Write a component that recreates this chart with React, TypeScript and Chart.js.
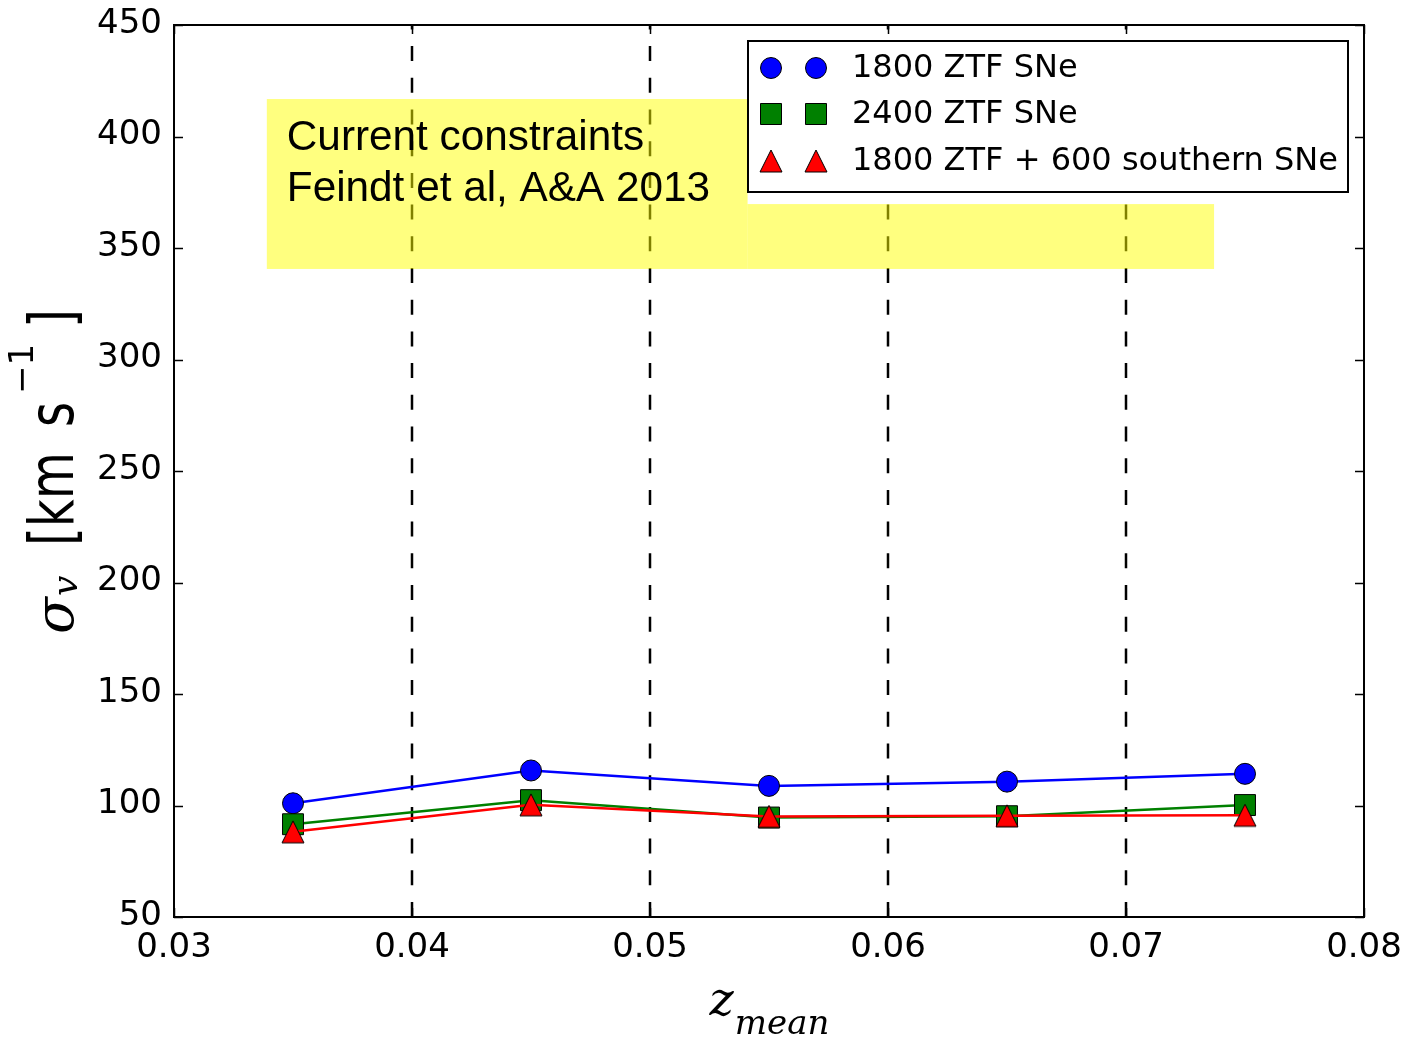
import React, { useEffect, useRef } from "react";
import { Chart, registerables } from "chart.js";

Chart.register(...registerables);

const zMean = [0.035, 0.045, 0.055, 0.065, 0.075];
const sigma1800 = [101, 115.7, 108.8, 110.7, 114.2];
const sigma2400 = [91.6, 102.4, 94.6, 95.2, 100.2];
const sigmaSouth = [88.2, 100.3, 95.1, 95.4, 95.6];
const seriesLabels = ["1800 ZTF SNe", "2400 ZTF SNe", "1800 ZTF + 600 southern SNe"];
const seriesColors = ["#0000ff", "#008000", "#ff0000"];
const xTicks = [0.03, 0.04, 0.05, 0.06, 0.07, 0.08];
const yTicks = [50, 100, 150, 200, 250, 300, 350, 400, 450];
const bandTextBox = [0.0339, 0.0541, 340.6, 416.8];
const bandRect = [0.0541, 0.0737, 340.6, 369.7];
const annotationLines = ["Current constraints", "Feindt et al, A&A 2013"];

function makeTriangle(size: number, fill: string) {
  const c = document.createElement("canvas");
  c.width = size + 4;
  c.height = size + 4;
  const g = c.getContext("2d")!;
  const cx = c.width / 2;
  const cy = c.height / 2;
  const h = size / 2;
  g.beginPath();
  g.moveTo(cx, cy - h);
  g.lineTo(cx - h, cy + h);
  g.lineTo(cx + h, cy + h);
  g.closePath();
  g.fillStyle = fill;
  g.fill();
  g.lineWidth = 1;
  g.strokeStyle = "#000";
  g.stroke();
  return c;
}

function drawMarker(ctx: CanvasRenderingContext2D, kind: number, x: number, y: number) {
  ctx.save();
  ctx.lineWidth = 1;
  ctx.strokeStyle = "#000";
  ctx.fillStyle = seriesColors[kind];
  ctx.beginPath();
  if (kind === 0) {
    ctx.arc(x, y, 10.5, 0, Math.PI * 2);
  } else if (kind === 1) {
    ctx.rect(x - 10.5, y - 10.5, 21, 21);
  } else {
    ctx.moveTo(x, y - 11);
    ctx.lineTo(x - 11, y + 11);
    ctx.lineTo(x + 11, y + 11);
    ctx.closePath();
  }
  ctx.fill();
  ctx.stroke();
  ctx.restore();
}

const decorPlugin = {
  id: "decor",
  beforeDatasetsDraw(chart: any) {
    const ctx = chart.ctx as CanvasRenderingContext2D;
    const xs = chart.scales.x;
    const ys = chart.scales.y;
    const a = chart.chartArea;
    ctx.save();
    // dashed vertical grid
    ctx.strokeStyle = "#000";
    ctx.lineWidth = 2.5;
    ctx.setLineDash([15, 16.7]);
    for (const t of xTicks.slice(1, -1)) {
      const px = Math.round(xs.getPixelForValue(t));
      ctx.beginPath();
      ctx.moveTo(px, a.bottom);
      ctx.lineTo(px, a.top);
      ctx.stroke();
    }
    ctx.setLineDash([]);
    // yellow bands
    ctx.fillStyle = "rgba(255,255,0,0.5)";
    for (const b of [bandTextBox, bandRect]) {
      const x0 = xs.getPixelForValue(b[0]);
      const x1 = xs.getPixelForValue(b[1]);
      const y0 = ys.getPixelForValue(b[3]);
      const y1 = ys.getPixelForValue(b[2]);
      ctx.fillRect(x0, y0, x1 - x0, y1 - y0);
    }
    // annotation text
    ctx.fillStyle = "#000";
    ctx.font = "42.3px 'Liberation Sans', Arial, sans-serif";
    ctx.textBaseline = "middle";
    ctx.textAlign = "left";
    const tx = xs.getPixelForValue(bandTextBox[0]) + 20;
    ctx.fillText(annotationLines[0], tx, 138);
    ctx.fillText(annotationLines[1], tx, 189);
    ctx.restore();
  },
  afterDraw(chart: any) {
    const ctx = chart.ctx as CanvasRenderingContext2D;
    const xs = chart.scales.x;
    const ys = chart.scales.y;
    const a = chart.chartArea;
    ctx.save();
    // frame
    ctx.strokeStyle = "#000";
    ctx.lineWidth = 2;
    ctx.strokeRect(a.left, a.top, a.right - a.left, a.bottom - a.top);
    // inward ticks
    const tl = 9;
    ctx.lineWidth = 1.5;
    for (const t of xTicks) {
      const px = Math.round(xs.getPixelForValue(t)) + 0.5;
      ctx.beginPath();
      ctx.moveTo(px, a.bottom);
      ctx.lineTo(px, a.bottom - tl);
      ctx.moveTo(px, a.top);
      ctx.lineTo(px, a.top + tl);
      ctx.stroke();
    }
    for (const t of yTicks) {
      const py = Math.round(ys.getPixelForValue(t)) + 0.5;
      ctx.beginPath();
      ctx.moveTo(a.left, py);
      ctx.lineTo(a.left + tl, py);
      ctx.moveTo(a.right, py);
      ctx.lineTo(a.right - tl, py);
      ctx.stroke();
    }
    // legend
    const lx = 748, ly = 41, lw = 600, lh = 151;
    ctx.fillStyle = "#fff";
    ctx.fillRect(lx, ly, lw, lh);
    ctx.lineWidth = 2;
    ctx.strokeRect(lx, ly, lw, lh);
    ctx.font = "32px 'DejaVu Sans', sans-serif";
    ctx.textBaseline = "middle";
    ctx.textAlign = "left";
    const rows = [68, 114, 161];
    for (let i = 0; i < 3; i++) {
      drawMarker(ctx, i, 771, rows[i]);
      drawMarker(ctx, i, 816, rows[i]);
      ctx.fillStyle = "#000";
      ctx.fillText(seriesLabels[i], 852, rows[i] + 1);
    }
    // x axis label
    ctx.fillStyle = "#000";
    ctx.textBaseline = "alphabetic";
    ctx.font = "italic 46px 'DejaVu Serif', serif";
    const zW = ctx.measureText("z").width;
    ctx.font = "italic 34px 'DejaVu Serif', serif";
    const mW = ctx.measureText("mean").width;
    const cx = (a.left + a.right) / 2;
    const sx = cx - (zW + mW) / 2;
    ctx.font = "italic 46px 'DejaVu Serif', serif";
    ctx.fillText("z", sx, 1015);
    ctx.font = "italic 34px 'DejaVu Serif', serif";
    ctx.fillText("mean", sx + zW + 1, 1034);
    // y axis label (rotated); text baseline at screen x = 73
    ctx.translate(73, 0);
    ctx.rotate(-Math.PI / 2);
    // [text, font, screenY start (bottom), baseline offset, horizontal scale]
    const parts: [string, string, number, number, number][] = [
      ["σ", "italic 54px 'DejaVu Serif', serif", 634, 0, 1],
      ["v", "italic 36px 'DejaVu Serif', serif", 596, 4, 1],
      ["[km", "62px 'DejaVu Sans', sans-serif", 546, 0, 0.78],
      ["s", "62px 'DejaVu Sans', sans-serif", 427, 0, 0.78],
      ["−1", "34px 'DejaVu Sans', sans-serif", 394, -40, 1],
      ["]", "62px 'DejaVu Sans', sans-serif", 328, 0, 0.78],
    ];
    for (const p of parts) {
      ctx.save();
      ctx.translate(-p[2], p[3]);
      ctx.scale(p[4], 1);
      ctx.font = p[1];
      ctx.fillText(p[0], 0, 0);
      ctx.restore();
    }
    ctx.restore();
  },
};

export default function App() {
  const ref = useRef<HTMLCanvasElement | null>(null);
  useEffect(() => {
    if (!ref.current) return;
    const tri = makeTriangle(22, seriesColors[2]);
    const mk = (ys: number[]) => zMean.map((x, i) => ({ x, y: ys[i] }));
    const chart = new Chart(ref.current, {
      type: "line",
      data: {
        datasets: [
          {
            label: seriesLabels[0],
            data: mk(sigma1800),
            borderColor: seriesColors[0],
            backgroundColor: seriesColors[0],
            pointBackgroundColor: seriesColors[0],
            pointBorderColor: "#000",
            pointBorderWidth: 1,
            pointRadius: 10.5,
            pointStyle: "circle",
            borderWidth: 2.5,
            order: 3,
          },
          {
            label: seriesLabels[1],
            data: mk(sigma2400),
            borderColor: seriesColors[1],
            backgroundColor: seriesColors[1],
            pointBackgroundColor: seriesColors[1],
            pointBorderColor: "#000",
            pointBorderWidth: 1,
            pointRadius: 14.8,
            pointStyle: "rect",
            borderWidth: 2.5,
            order: 2,
          },
          {
            label: seriesLabels[2],
            data: mk(sigmaSouth),
            borderColor: seriesColors[2],
            backgroundColor: seriesColors[2],
            pointRadius: 11,
            pointStyle: tri as any,
            borderWidth: 2.5,
            order: 1,
          },
        ],
      },
      options: {
        responsive: false,
        devicePixelRatio: 1,
        animation: false,
        layout: { padding: { left: 0, top: 25, right: 50, bottom: 0 } },
        plugins: { legend: { display: false }, tooltip: { enabled: false } },
        elements: { line: { tension: 0 } },
        scales: {
          x: {
            type: "linear",
            min: 0.03,
            max: 0.08,
            afterFit: (s: any) => {
              s.height = 121;
              s.paddingLeft = 0;
              s.paddingRight = 0;
            },
            afterBuildTicks: (s: any) => {
              s.ticks = xTicks.map((v) => ({ value: v }));
            },
            grid: { display: false, drawTicks: false },
            border: { display: false },
            ticks: {
              padding: 11,
              color: "#000",
              font: { family: "'DejaVu Sans', sans-serif", size: 34 },
              callback: (v: any) => Number(v).toFixed(2),
              maxRotation: 0,
            },
          },
          y: {
            type: "linear",
            min: 50,
            max: 450,
            afterFit: (s: any) => {
              s.width = 174;
              s.paddingTop = 0;
              s.paddingBottom = 0;
            },
            afterBuildTicks: (s: any) => {
              s.ticks = yTicks.map((v) => ({ value: v }));
            },
            grid: { display: false, drawTicks: false },
            border: { display: false },
            ticks: {
              padding: 12,
              labelOffset: -1,
              color: "#000",
              font: { family: "'DejaVu Sans', sans-serif", size: 34 },
              callback: (v: any) => String(v),
            },
          },
        },
      },
      plugins: [decorPlugin],
    });
    return () => chart.destroy();
  }, []);
  return (
    <div style={{ position: "fixed", left: 0, top: 0, width: 1414, height: 1038, background: "#fff" }}>
      <canvas ref={ref} width={1414} height={1038} style={{ width: 1414, height: 1038 }} />
    </div>
  );
}
